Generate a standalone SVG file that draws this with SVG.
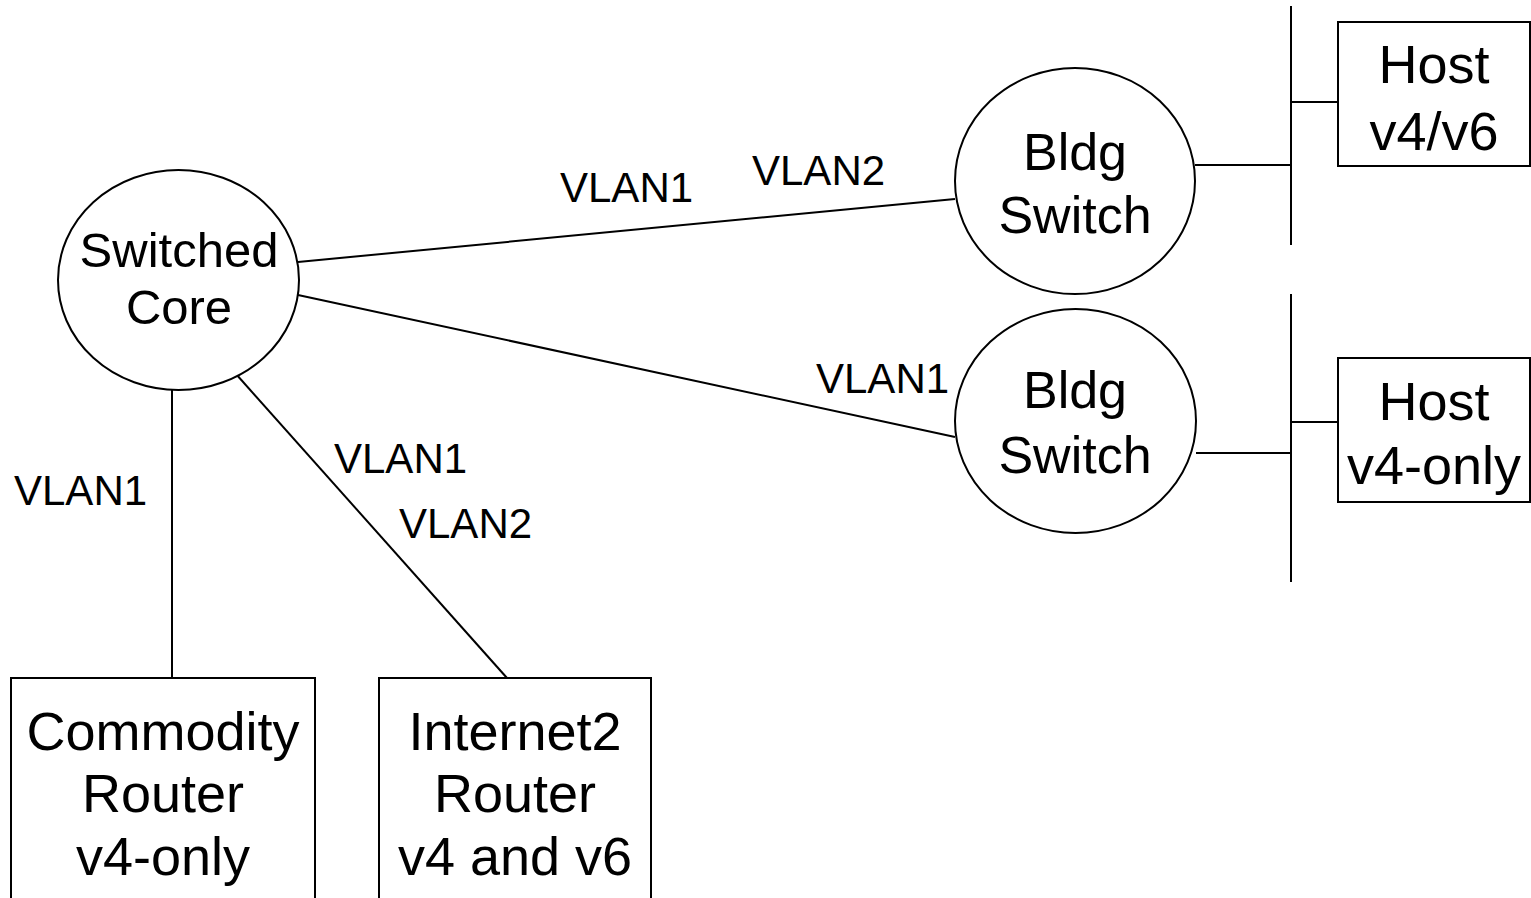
<svg xmlns="http://www.w3.org/2000/svg" width="1531" height="898" viewBox="0 0 1531 898">
  <style>
    .shape { fill: #ffffff; stroke: #000000; stroke-width: 2; }
    .wire { fill: none; stroke: #000000; stroke-width: 2; }
    .lbl { font-family: "Liberation Sans", Arial, sans-serif; fill: #000000; }
    .big { text-anchor: middle; }
    .vlan { font-size: 42px; }
  </style>
  <rect width="1531" height="898" fill="#ffffff"/>

  <!-- links between devices -->
  <g id="connectors">
    <line class="wire" x1="298" y1="262" x2="955" y2="199"/>
    <line class="wire" x1="298" y1="295" x2="955" y2="437"/>
    <line class="wire" x1="172" y1="390" x2="172" y2="678"/>
    <line class="wire" x1="236" y1="374" x2="507" y2="678"/>
    <line class="wire" x1="1195" y1="165" x2="1291" y2="165"/>
    <line class="wire" x1="1291" y1="6" x2="1291" y2="245"/>
    <line class="wire" x1="1291" y1="102" x2="1338" y2="102"/>
    <line class="wire" x1="1196" y1="453" x2="1291" y2="453"/>
    <line class="wire" x1="1291" y1="294" x2="1291" y2="582"/>
    <line class="wire" x1="1291" y1="422" x2="1338" y2="422"/>
  </g>

  <!-- VLAN tags on the links -->
  <g id="vlan-labels" class="lbl vlan">
    <text x="560" y="202">VLAN1</text>
    <text x="752" y="185">VLAN2</text>
    <text x="816" y="393">VLAN1</text>
    <text x="14" y="505">VLAN1</text>
    <text x="334" y="473">VLAN1</text>
    <text x="399" y="538">VLAN2</text>
  </g>

  <g id="switched-core">
    <ellipse class="shape" cx="178.5" cy="280" rx="120.5" ry="110"/>
    <text class="lbl big" font-size="49" x="179" y="267">Switched</text>
    <text class="lbl big" font-size="49" x="179" y="324">Core</text>
  </g>

  <g id="bldg-switch-1">
    <ellipse class="shape" cx="1075" cy="181" rx="120" ry="113"/>
    <text class="lbl big" font-size="52" x="1075" y="170">Bldg</text>
    <text class="lbl big" font-size="52" x="1075" y="233">Switch</text>
  </g>

  <g id="bldg-switch-2">
    <ellipse class="shape" cx="1075.5" cy="421" rx="120.5" ry="112"/>
    <text class="lbl big" font-size="52" x="1075" y="408">Bldg</text>
    <text class="lbl big" font-size="52" x="1075" y="473">Switch</text>
  </g>

  <g id="host-dual">
    <rect class="shape" x="1338" y="22" width="192" height="144"/>
    <text class="lbl big" font-size="54" x="1434" y="83">Host</text>
    <text class="lbl big" font-size="54" x="1434" y="150">v4/v6</text>
  </g>

  <g id="host-v4">
    <rect class="shape" x="1338" y="358" width="192" height="144"/>
    <text class="lbl big" font-size="54" x="1434" y="420">Host</text>
    <text class="lbl big" font-size="54" x="1434" y="484">v4-only</text>
  </g>

  <g id="commodity-router">
    <rect class="shape" x="11" y="678" width="304" height="240"/>
    <text class="lbl big" font-size="54" x="163" y="750">Commodity</text>
    <text class="lbl big" font-size="54" x="163" y="812">Router</text>
    <text class="lbl big" font-size="54" x="163" y="875">v4-only</text>
  </g>

  <g id="internet2-router">
    <rect class="shape" x="379" y="678" width="272" height="240"/>
    <text class="lbl big" font-size="54" x="515" y="750">Internet2</text>
    <text class="lbl big" font-size="54" x="515" y="812">Router</text>
    <text class="lbl big" font-size="54" x="515" y="875">v4 and v6</text>
  </g>
</svg>
